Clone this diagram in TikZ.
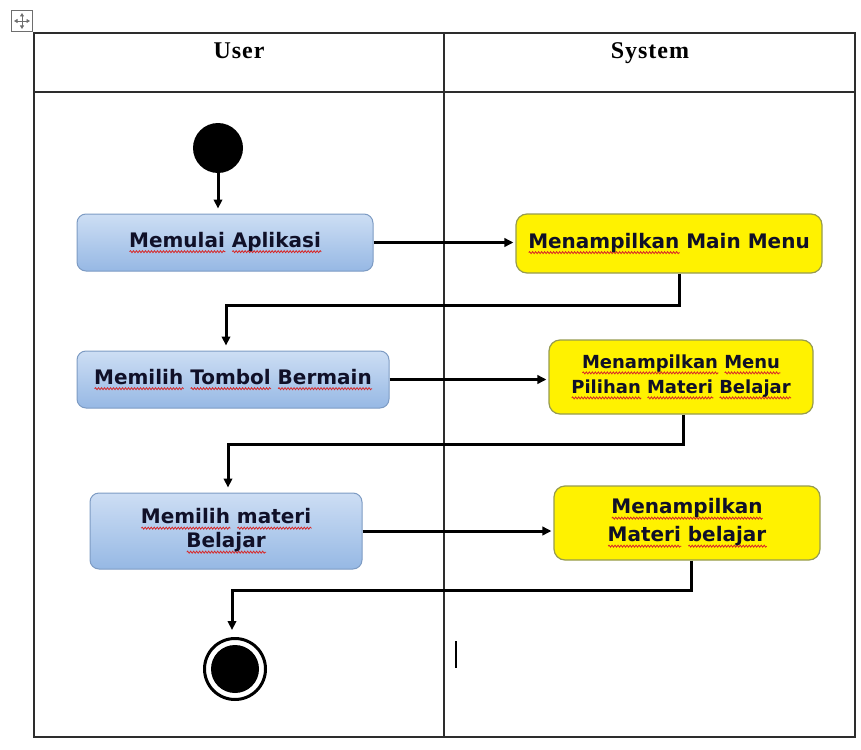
\documentclass[tikz,border=0pt]{standalone}
\usepackage{fontspec}
\usetikzlibrary{arrows.meta,decorations.pathmorphing}
\setmainfont{DejaVu Sans}
\newfontfamily\headfont{Liberation Serif}[LetterSpace=4]

\definecolor{lanegray}{RGB}{45,45,45}
\definecolor{boxtext}{RGB}{16,16,40}
\definecolor{wavered}{RGB}{215,40,40}
\definecolor{blueedge}{RGB}{125,155,195}
\definecolor{bluetop}{RGB}{205,222,244}
\definecolor{bluebot}{RGB}{150,184,228}
\definecolor{yellowedge}{RGB}{150,155,80}
\definecolor{handlegray}{RGB}{110,110,110}

% spell-check style wavy underline under one word
\newsavebox\wvbox
\newcommand\wv[1]{\sbox\wvbox{#1}%
  \rlap{\tikz[baseline=0pt, x=1pt, y=1pt, rounded corners=0pt]
    \draw[wavered, line width=0.8pt, decorate,
      decoration={snake, amplitude=1pt, segment length=3pt}]
      (0pt,-4.5pt) -- (\the\wd\wvbox,-4.5pt);}%
  \usebox\wvbox}

\tikzset{
  lane/.style={draw=lanegray, line width=1.9pt},
  headtext/.style={font=\headfont\bfseries\fontsize{24}{28}\selectfont, inner sep=0pt, anchor=base},
  userbox/.style={rounded corners=9pt, draw=blueedge, line width=1pt,
    top color=bluetop, bottom color=bluebot, text=boxtext, align=center,
    font=\bfseries\fontsize{20}{24}\selectfont, inner sep=0pt},
  sysbox/.style={rounded corners=11pt, draw=yellowedge, line width=1.2pt,
    fill=yellow, text=boxtext, align=center,
    font=\bfseries\fontsize{20}{26}\selectfont, inner sep=0pt},
  flow/.style={line width=3pt, -{Triangle[length=9pt,width=8.5pt]}},
  flowv/.style={flow, shorten >=5pt},
  startdot/.style={circle, fill=black, minimum size=50pt, inner sep=0pt},
  endring/.style={circle, draw=black, line width=3pt, minimum size=61pt, inner sep=0pt},
  handlearrow/.style={handlegray, line width=0.9pt,
    {Triangle[length=3.5pt,width=4pt]}-{Triangle[length=3.5pt,width=4pt]}},
}

\begin{document}
\begin{tikzpicture}[x=1pt, y=-1pt]
  \useasboundingbox (0,0) rectangle (861,749);

  % table move handle
  \node[draw=handlegray, line width=0.8pt, minimum size=21pt, inner sep=0pt] (handle) at (22,21) {};
  \draw[handlearrow] ([xshift=-8pt]handle.center) -- ([xshift=8pt]handle.center);
  \draw[handlearrow] ([yshift=-8pt]handle.center) -- ([yshift=8pt]handle.center);

  % swimlane table
  \draw[lane] (34,33) rectangle (855,737);
  \draw[lane] (34,92) -- (855,92);
  \draw[lane] (444,33) -- (444,737);
  \node[headtext] (huser) at (239,59) {User};
  \node[headtext] (hsys) at (650,59) {System};

  % activity nodes
  \node[startdot] (start) at (218,148) {};

  \node[userbox, minimum width=296pt, minimum height=57pt] (b1) at (225,242.5)
    {\wv{Memulai} \wv{Aplikasi}};
  \node[sysbox, minimum width=306pt, minimum height=59pt] (b2) at (669,243.5)
    {\wv{Menampilkan} Main Menu};

  \node[userbox, minimum width=312pt, minimum height=57pt] (b3) at (233,379.5)
    {\wv{Memilih} \wv{Tombol} \wv{Bermain}};
  \node[sysbox, minimum width=264pt, minimum height=74pt,
        font=\bfseries\fontsize{18}{25}\selectfont] (b4) at (681,377)
    {\wv{Menampilkan} \wv{Menu}\\ \wv{Pilihan} \wv{Materi} \wv{Belajar}};

  \node[userbox, minimum width=272pt, minimum height=76pt] (b5) at (226,531)
    {\wv{Memilih} \wv{materi}\\ \wv{Belajar}};
  \node[sysbox, minimum width=266pt, minimum height=74pt,
        font=\bfseries\fontsize{20}{28}\selectfont] (b6) at (687,523)
    {\wv{Menampilkan}\\ \wv{Materi} \wv{belajar}};

  \node[endring] (finish) at (235,669) {};
  \fill (finish.center) circle (24pt);

  % bend points of the return flows
  \coordinate (k1) at (226,305);
  \coordinate (k2) at (228,444);
  \coordinate (k3) at (232,590);

  % control flow
  \draw[flowv] (start.south) -- (start.south |- b1.north);
  \draw[flow, shorten >=2pt] (b1.east) -- (b1.east -| b2.west);
  \draw[flowv] ([xshift=10pt]b2.south) |- (k1) -- (k1 |- b3.north);
  \draw[flow, shorten >=2pt] (b3.east) -- (b3.east -| b4.west);
  \draw[flowv] ([xshift=2pt]b4.south) |- (k2) -- (k2 |- b5.north);
  \draw[flow, shorten >=2pt] (b5.east) -- (b5.east -| b6.west);
  \draw[flowv, shorten >=7pt] ([xshift=4pt]b6.south) |- (k3) -- (k3 |- finish.north);

  % text cursor
  \coordinate (cur) at (456,641);
  \draw[line width=1.3pt] (cur) -- ++(0,27);
\end{tikzpicture}
\end{document}
